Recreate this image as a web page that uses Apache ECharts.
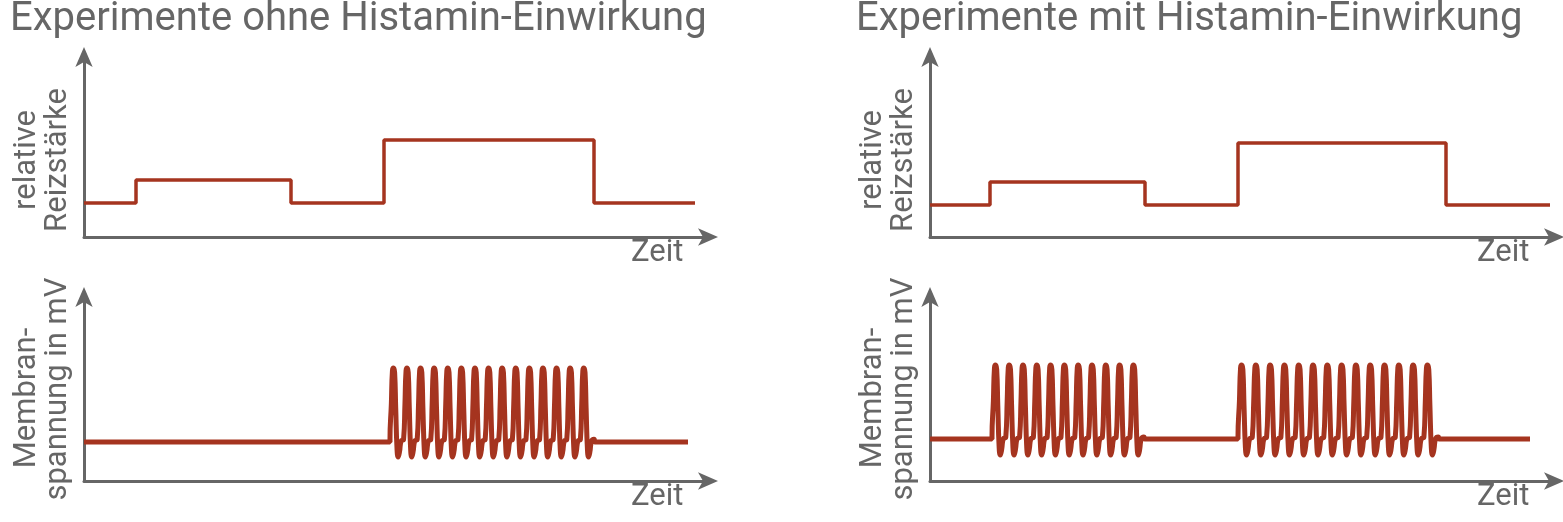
<!DOCTYPE html>
<html>
<head>
<meta charset="utf-8">
<script src="https://cdn.jsdelivr.net/npm/echarts@6/dist/echarts.min.js"></script>
<style>html,body{margin:0;padding:0;background:#fff}#main{width:1563px;height:522px}</style>
</head>
<body>
<div id="main"></div>
<script>
// stimulus steps [time, level]
const stimLeft = [[0, 34], [52, 34], [52, 57], [207, 57], [207, 34], [300, 34], [300, 97], [510, 97], [510, 34], [611, 34]];
const stimRight = [[0, 32], [60, 32], [60, 55], [215, 55], [215, 32], [308, 32], [308, 94], [516, 94], [516, 32], [620, 32]];

// one action-potential cycle: [phase 0..1, fraction of amplitude]
const spikeShape = [[0, 0.2], [0.1, 0.6], [0.18, 0.97], [0.26, 1], [0.34, 0.95], [0.42, 0.55], [0.52, 0.08], [0.6, 0], [0.7, 0.06], [0.82, 0.18], [1, 0.2]];

// bursts: [start, period, count]
const burstsLeft = [[306, 13.6, 15]];
const burstsRight = [[62, 13.8, 11], [308, 14.3, 14]];
const memLeft = { base: 39, peak: 113, trough: 24, end: 604 };
const memRight = { base: 42, peak: 116, trough: 26, end: 600 };

const titles = ['Experimente ohne Histamin-Einwirkung', 'Experimente mit Histamin-Einwirkung'];

function buildMembrane(bursts, m) {
  const pts = [[0, m.base]];
  bursts.forEach(([start, period, count]) => {
    pts.push([start, m.base]);
    for (let i = 0; i < count; i++) {
      spikeShape.forEach(([ph, f], k) => {
        if (i > 0 && k === 0) return;
        pts.push([start + (i + ph) * period, m.trough + f * (m.peak - m.trough)]);
      });
    }
    const e = start + count * period;
    pts.push([e + 1, m.base]);
  });
  pts.push([m.end, m.base]);
  return pts;
}

const chart = echarts.init(document.getElementById('main'));
const grey = '#666';
const red = '#a5341f';
const offsets = [84, 930];
const grids = [];
const xAxes = [];
const yAxes = [];
const series = [];
const graphic = [];
const axisCommon = (arrowSize) => ({
  axisLine: { lineStyle: { color: grey, width: 3 }, symbol: ['none', 'arrow'], symbolSize: arrowSize, symbolOffset: [0, 8] },
  axisTick: { show: false }, axisLabel: { show: false }, splitLine: { show: false },
});
const font = '400 31px Roboto';

offsets.forEach((left, p) => {
  [[55, 182], [295, 186]].forEach(([top, height], r) => {
    const idx = grids.length;
    grids.push({ left, top, width: 626, height });
    xAxes.push({ gridIndex: idx, type: 'value', min: 0, max: 626, ...axisCommon([13, 20]) });
    yAxes.push({ gridIndex: idx, type: 'value', min: 0, max: height, ...axisCommon([13, 20]) });
    const data = r === 0 ? (p === 0 ? stimLeft : stimRight) : (p === 0 ? buildMembrane(burstsLeft, memLeft) : buildMembrane(burstsRight, memRight));
    series.push({
      type: 'line', xAxisIndex: idx, yAxisIndex: idx, data, showSymbol: false,
      smooth: r === 1 ? 0.5 : false, lineStyle: { color: red, width: r === 1 ? 5 : 3.5 },
    });
    graphic.push({ type: 'text', left: left + 547, top: top + height + 1,
      style: { text: 'Zeit', font, fill: grey } });
  });
  graphic.push({ type: 'text', left: left - 74, top: 0, style: { text: titles[p], font: '400 40px Roboto', fill: grey } });
  [['relative', 27, 160], ['Reizstärke', 58, 160], ['Membran-', 27, 398], ['spannung in mV', 58, 389]].forEach(([t, dx, y]) => {
    graphic.push({ type: 'text', x: left - 84 + dx, y, rotation: Math.PI / 2,
      style: { text: t, font, fill: grey, align: 'center', verticalAlign: 'middle' } });
  });
});

chart.setOption({
  animation: false,
  grid: grids, xAxis: xAxes, yAxis: yAxes, series, graphic,
});
</script>
</body>
</html>
